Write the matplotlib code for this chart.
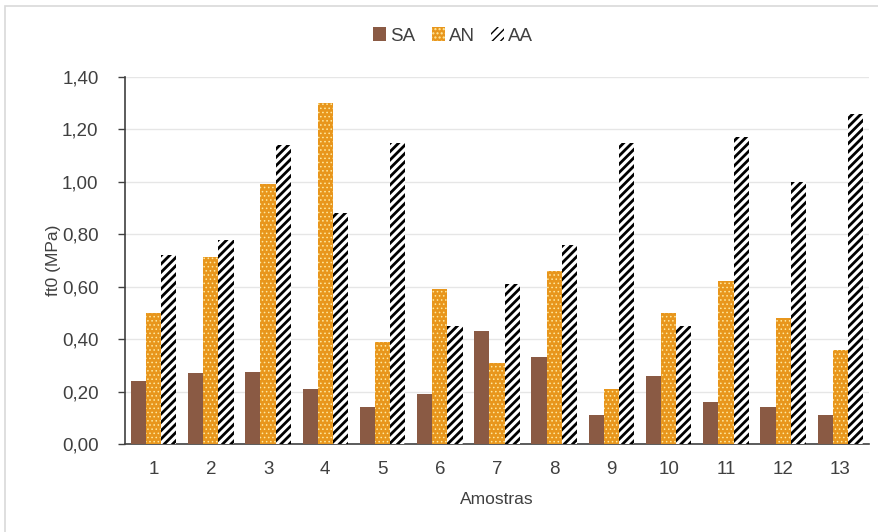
import numpy as np
import matplotlib.pyplot as plt
from matplotlib.patches import Rectangle
from matplotlib.ticker import FuncFormatter

plt.rcParams['font.family'] = ['Liberation Sans', 'DejaVu Sans']

amostras = [str(i) for i in range(1, 14)]
sa = [0.24, 0.27, 0.275, 0.21, 0.14, 0.19, 0.43, 0.33, 0.11, 0.26, 0.16, 0.14, 0.11]
an = [0.50, 0.715, 0.99, 1.30, 0.39, 0.59, 0.31, 0.66, 0.21, 0.50, 0.62, 0.48, 0.36]
aa = [0.72, 0.78, 1.14, 0.88, 1.15, 0.45, 0.61, 0.76, 1.15, 0.45, 1.17, 1.00, 1.26]

fig = plt.figure(figsize=(8.79, 5.32), dpi=100)
ax = fig.add_axes([125 / 879, 1 - 444 / 532, 744 / 879, 367 / 532])

# light chart-area border
fig.patches.append(Rectangle((5 / 879, -0.1), 1.1, 1.1 - 6 / 532, transform=fig.transFigure,
                             fill=False, edgecolor='#d9d9d9', linewidth=1.2))

x = np.arange(len(amostras))
w = 0.265
b1 = ax.bar(x - w, sa, w, color='#8a5a44', label='SA', zorder=3)
b2 = ax.bar(x, an, w, color='#e8961c', edgecolor='#ffe9a0', hatch='....', linewidth=0,
            label='AN', zorder=3)
b3 = ax.bar(x + w, aa, w, color='white', edgecolor='black', hatch='////', linewidth=0,
            label='AA', zorder=3)
for p in b3:
    p.set_hatch_linewidth(2.0)
for p in b2:
    p.set_hatch_linewidth(0.6)

ax.set_xlim(-0.5, len(amostras) - 0.5)
ax.set_ylim(0, 1.4)
ax.set_yticks(np.arange(0, 1.41, 0.2))
ax.yaxis.set_major_formatter(FuncFormatter(lambda v, _: f'{v:.2f}'.replace('.', ',')))
ax.set_xticks(x)
ax.set_xticklabels(amostras)
ax.tick_params(axis='y', length=5, width=1, color='#404040', labelsize=13.5,
               labelcolor='#404040', pad=14)
ax.tick_params(axis='x', length=0, labelsize=13.5, labelcolor='#404040', pad=12)
ax.grid(axis='y', color='#e6e6e6', linewidth=1, zorder=0)
for s in ['top', 'right']:
    ax.spines[s].set_visible(False)
ax.spines['left'].set_color('#404040')
ax.spines['bottom'].set_color('#404040')
ax.spines['left'].set_linewidth(1.2)
ax.spines['bottom'].set_linewidth(1.2)

ax.set_ylabel('ft0 (MPa)', fontsize=12.5, color='#404040', labelpad=1)
ax.set_xlabel('Amostras', fontsize=12.5, color='#404040', labelpad=10)

fig.legend(handles=[b1, b2, b3], loc='center', bbox_to_anchor=(453 / 879, 1 - 36 / 532),
           ncol=3, frameon=False, fontsize=13.5, handlelength=0.7, handleheight=0.7,
           handletextpad=0.2, columnspacing=0.9, labelcolor='#404040')

fig.savefig('out.png', dpi=100)
